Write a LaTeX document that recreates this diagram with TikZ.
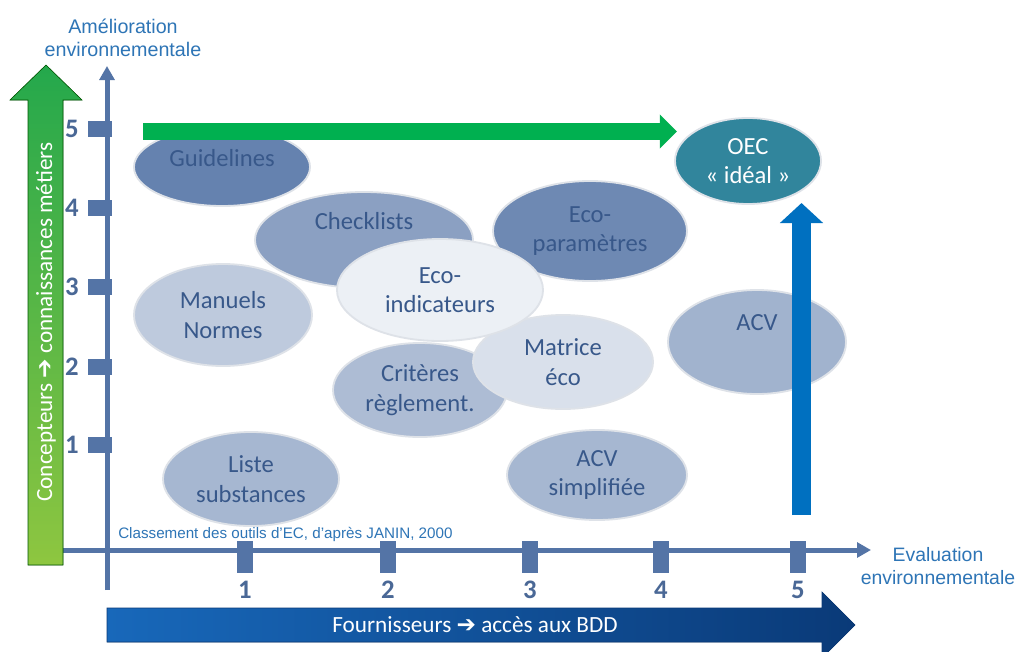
\documentclass[tikz,border=0pt]{standalone}
\usepackage{fontspec}
\setmainfont{Carlito}
\newfontfamily\arialfont{Liberation Sans}
\newfontfamily\symfont{DejaVu Sans}
\usetikzlibrary{shapes.geometric, arrows.meta, positioning, calc}
\definecolor{axisblue}{RGB}{84,116,166}
\definecolor{numblue}{RGB}{74,104,150}
\definecolor{labelblue}{RGB}{46,117,182}
\definecolor{tooltext}{RGB}{56,88,138}
\definecolor{rimgray}{RGB}{222,226,232}
\definecolor{oecteal}{RGB}{49,133,156}
\definecolor{idealgreen}{RGB}{0,176,80}
\definecolor{idealblue}{RGB}{0,112,192}
\definecolor{concepttop}{RGB}{36,168,76}
\definecolor{conceptbot}{RGB}{142,198,64}
\definecolor{fournleft}{RGB}{24,104,186}
\definecolor{fournright}{RGB}{10,58,120}

\begin{document}
\begin{tikzpicture}[
  x=0.025cm, y=-0.025cm,
  tool/.style={ellipse, fill=#1, draw=rimgray, line width=1.3pt, inner sep=0pt,
    align=center, font=\fontsize{17.5}{21}\selectfont, text=tooltext},
  ytick/.style={rectangle, fill=axisblue, inner sep=0pt, minimum width=0.6cm, minimum height=0.38cm},
  xtick/.style={rectangle, fill=axisblue, inner sep=0pt, minimum width=0.4cm, minimum height=0.78cm},
  ticknum/.style={font=\fontsize{19}{19}\selectfont\bfseries, text=numblue, inner sep=0pt},
  axislabel/.style={font=\arialfont\fontsize{14}{16.5}\selectfont, text=labelblue, align=center, inner sep=0pt},
  axis/.style={axisblue, line width=0.125cm, -{Triangle[length=0.35cm, width=0.37cm]}},
  bigtext/.style={font=\fontsize{16.5}{18}\selectfont, text=white, inner sep=0pt}
]
  \clip (0,0) rectangle (1031,651);
  \fill[white] (0,0) rectangle (1031,651);

  % axes
  \coordinate (yaxbot) at (107,590);
  \coordinate (yaxtop) at (107,66);
  \coordinate (xaxleft) at (62,550);
  \coordinate (xaxright) at (871,550);
  \draw[axis] (yaxbot) -- (yaxtop);
  \draw[axis] (xaxleft) -- (xaxright);

  \foreach \y/\n in {129/5, 208/4, 287/3, 367/2, 445/1} {
    \node[ytick] (yt\n) at (100,\y) {};
    \node[ticknum] (yn\n) at (72,\y) {\n};
  }
  \foreach \x/\n in {245/1, 388/2, 530/3, 661/4, 798/5} {
    \node[xtick] (xt\n) at (\x,557) {};
    \node[ticknum] (xn\n) at (\x,590) {\n};
  }

  \node[axislabel] (ylabel) at (123,38) {Amélioration\\environnementale};
  \node[axislabel, font=\arialfont\fontsize{13.8}{16.5}\selectfont] (xlabel) at (938,566) {Evaluation\\environnementale};

  % big arrows
  \fill[top color=concepttop, bottom color=conceptbot, draw=green!35!black, line width=0.4pt]
    (28,565) -- (28,100) -- (10,100) -- (46,65) -- (82,100) -- (63,100) -- (63,565) -- cycle;
  \node[bigtext, rotate=90] (concepteurs) at (46,322) {Concepteurs {\symfont ➔} connaissances métiers};

  \fill[left color=fournleft, right color=fournright, draw=fournright, line width=0.4pt]
    (107,608) -- (822,608) -- (822,592) -- (855,625) -- (822,658) -- (822,642) -- (107,642) -- cycle;
  \node[bigtext] (fournisseurs) at (475,625) {Fournisseurs {\symfont ➔} accès aux BDD};

  % tools
  \node[tool=axisblue!90!white, minimum width=4.4cm, minimum height=1.95cm] (guidelines) at (222,167) {\raisebox{12.8pt}{Guidelines}};
  \node[tool=axisblue!68!white, minimum width=5.45cm, minimum height=2.4cm] (checklists) at (364,240) {\raisebox{27pt}{Checklists}};
  \node[tool=axisblue!85!white, minimum width=4.85cm, minimum height=2.5cm] (ecoparam) at (590,231) {Eco-\\paramètres};
  \node[tool=axisblue!38!white, minimum width=4.45cm, minimum height=2.55cm] (manuels) at (223,315) {Manuels\\Normes};
  \node[tool=axisblue!48!white, minimum width=4.35cm, minimum height=2.35cm] (criteres) at (420,390) {Critères\\règlement.};
  \node[tool=axisblue!22!white, minimum width=4.5cm, minimum height=2.35cm] (matrice) at (563,362) {Matrice\\éco};
  \node[tool=axisblue!11!white, minimum width=5.15cm, minimum height=2.55cm] (ecoind) at (440,290) {Eco-\\indicateurs};
  \node[tool=axisblue!55!white, minimum width=4.45cm, minimum height=2.6cm] (acv) at (757,342) {\raisebox{28pt}{ACV}};
  \node[tool=axisblue!52!white, minimum width=4.4cm, minimum height=2.35cm] (liste) at (251,479) {Liste\\substances};
  \node[tool=axisblue!52!white, minimum width=4.5cm, minimum height=2.25cm] (acvsimp) at (597,475) {ACV\\simplifiée};
  \node[tool=oecteal, text=white, minimum width=3.65cm, minimum height=2.15cm] (oec) at (748,161) {OEC\\« idéal »};

  % ideal paths
  \coordinate (gstart) at (143,131.5);
  \coordinate (gend) at (677,131.5);
  \draw[idealgreen, line width=0.42cm, -{Triangle[length=0.43cm, width=0.83cm]}] (gstart) -- (gend);
  \coordinate (bstart) at (801.5,515);
  \coordinate (bend) at (801.5,203);
  \draw[idealblue, line width=0.48cm, -{Triangle[length=0.5cm, width=1.05cm]}] (bstart) -- (bend);

  \node[font=\arialfont\fontsize{10.8}{12}\selectfont, text=labelblue, inner sep=0pt, anchor=west] (source) at (118,534)
    {Classement des outils d’EC, d’après JANIN, 2000};
\end{tikzpicture}
\end{document}
